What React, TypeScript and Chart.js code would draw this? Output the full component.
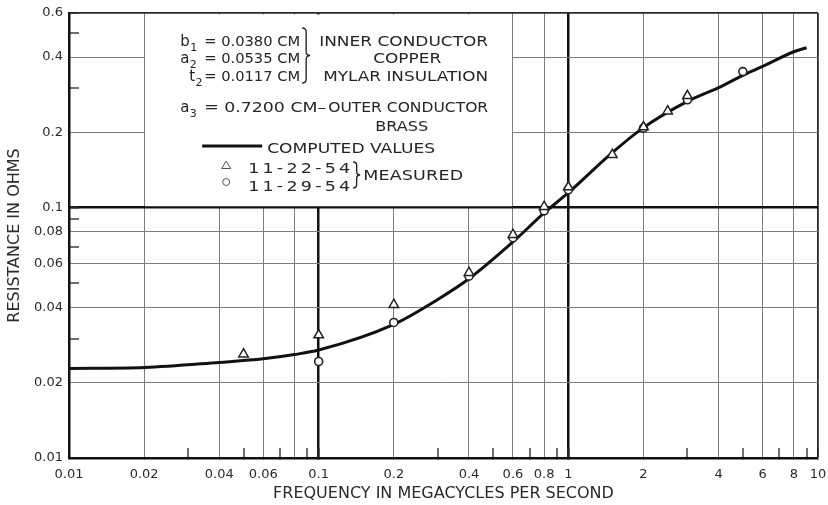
import React, { useEffect, useRef } from 'react';
import { Chart, registerables } from 'chart.js';

Chart.register(...registerables);

const FONT = '"DejaVu Sans", "Liberation Sans", sans-serif';

// ---- data ----
const computedFreq = [0.01, 0.02, 0.04, 0.06, 0.08, 0.1, 0.2, 0.3, 0.4, 0.6, 0.8, 1, 1.5, 2, 3, 4, 5, 6, 8, 9];
const computedRes = [0.0228, 0.023, 0.0241, 0.0249, 0.0259, 0.027, 0.0342, 0.043, 0.052, 0.073, 0.0953, 0.1148, 0.166, 0.209, 0.266, 0.302, 0.338, 0.367, 0.42, 0.436];

const measured1Freq = [0.05, 0.1, 0.2, 0.4, 0.6, 0.8, 1, 1.5, 2, 2.5, 3];
const measured1Res = [0.026, 0.031, 0.041, 0.055, 0.078, 0.101, 0.121, 0.163, 0.21, 0.243, 0.28];

const measured2Freq = [0.1, 0.2, 0.4, 0.6, 0.8, 1, 2, 3, 5];
const measured2Res = [0.0243, 0.0348, 0.0533, 0.0759, 0.0972, 0.118, 0.208, 0.27, 0.35];

// ---- axis ticks ----
const xTickValues = [0.01, 0.02, 0.03, 0.04, 0.05, 0.06, 0.07, 0.08, 0.09, 0.1, 0.2, 0.3, 0.4, 0.5, 0.6, 0.7, 0.8, 0.9, 1, 2, 3, 4, 5, 6, 7, 8, 9, 10];
const xLabelValues = [0.01, 0.02, 0.04, 0.06, 0.1, 0.2, 0.4, 0.6, 0.8, 1, 2, 4, 6, 8, 10];
const xGridValues = [0.02, 0.04, 0.06, 0.08, 0.2, 0.4, 0.6, 0.8, 2, 4, 6, 8];
const xHeavyValues = [0.1, 1];
const xEdgeValue = 10;
const xAxisValue = 0.01;

const yTickValues = [0.01, 0.02, 0.03, 0.04, 0.05, 0.06, 0.07, 0.08, 0.09, 0.1, 0.2, 0.3, 0.4, 0.5, 0.6];
const yLabelValues = [0.01, 0.02, 0.04, 0.06, 0.08, 0.1, 0.2, 0.4, 0.6];
const yGridValues = [0.02, 0.04, 0.06, 0.08, 0.2, 0.4];
const yHeavyValues = [0.1];
const yEdgeValue = 0.6;
const yAxisValue = 0.01;

function gridStyle(grid: number[], heavy: number[], edge: number, axis: number) {
  const kind = (c: any) => {
    const v = c && c.tick ? c.tick.value : undefined;
    if (v === undefined || v === axis) return 'none';
    if (heavy.includes(v)) return 'heavy';
    if (v === edge) return 'edge';
    if (grid.includes(v)) return 'grid';
    return 'minor';
  };
  return {
    color: (c: any) => {
      const k = kind(c);
      if (k === 'heavy') return '#111111';
      if (k === 'edge') return '#2a2a2a';
      if (k === 'grid') return '#7c7c7c';
      return 'rgba(0,0,0,0)';
    },
    lineWidth: (c: any) => {
      const k = kind(c);
      if (k === 'heavy') return 2.5;
      if (k === 'edge') return 1.8;
      if (k === 'grid') return 1;
      return 0;
    },
    tickColor: (c: any) => {
      const k = kind(c);
      if (k === 'none') return 'rgba(0,0,0,0)';
      if (k === 'grid') return '#7c7c7c';
      return '#222222';
    },
    tickWidth: (c: any) => {
      const k = kind(c);
      if (k === 'heavy') return 2.5;
      if (k === 'grid') return 1;
      return 1.3;
    },
    tickLength: -10,
    drawTicks: true,
    drawOnChartArea: true,
  };
}

// draws text stretched (wide lettering) to a target width
function fitText(ctx: CanvasRenderingContext2D, text: string, x: number, y: number, width: number) {
  (ctx as any).letterSpacing = '0px';
  const natural = ctx.measureText(text).width;
  const n = Array.from(text).length;
  let sx = width / natural;
  if (sx > 1.25) sx = 1.25;
  if (sx < 0.85) sx = 0.85;
  const remaining = width - natural * sx;
  const ls = n > 1 ? remaining / (n - 1) / sx : 0;
  ctx.save();
  ctx.translate(x, y);
  ctx.scale(sx, 1);
  (ctx as any).letterSpacing = `${ls}px`;
  ctx.fillText(text, 0, 0);
  ctx.restore();
}

function brace(ctx: CanvasRenderingContext2D, x0: number, yTop: number, yBot: number, w: number) {
  const ym = (yTop + yBot) / 2;
  const h = w / 2;
  ctx.beginPath();
  ctx.moveTo(x0, yTop);
  ctx.quadraticCurveTo(x0 + h, yTop, x0 + h, yTop + h);
  ctx.lineTo(x0 + h, ym - h);
  ctx.quadraticCurveTo(x0 + h, ym, x0 + w, ym);
  ctx.quadraticCurveTo(x0 + h, ym, x0 + h, ym + h);
  ctx.lineTo(x0 + h, yBot - h);
  ctx.quadraticCurveTo(x0 + h, yBot, x0, yBot);
  ctx.stroke();
}

const whiteBackground = {
  id: 'whiteBackground',
  beforeDraw(chart: any) {
    const ctx = chart.ctx;
    ctx.save();
    ctx.fillStyle = '#ffffff';
    ctx.fillRect(0, 0, chart.width, chart.height);
    ctx.restore();
  },
};

const paperLegend = {
  id: 'paperLegend',
  beforeDatasetsDraw(chart: any) {
    const ctx: CanvasRenderingContext2D = chart.ctx;
    const xs = chart.scales.x;
    const ys = chart.scales.y;
    const left = xs.getPixelForValue(0.02);
    const right = xs.getPixelForValue(0.6);
    const top = ys.getPixelForValue(0.6);
    const bottom = ys.getPixelForValue(0.1);
    ctx.save();
    ctx.fillStyle = '#ffffff';
    ctx.fillRect(left + 1, top + 1.5, right - left - 2, bottom - top - 3);
    ctx.translate(left, top);
    ctx.fillStyle = '#262626';
    ctx.strokeStyle = '#262626';
    ctx.textAlign = 'left';
    ctx.textBaseline = 'alphabetic';

    const rows: [number, number, string, string, string, number][] = [
      [36, 33, 'b', '1', '= 0.0380 CM', 96],
      [36, 50, 'a', '2', '= 0.0535 CM', 96],
      [45, 68, 't', '2', '= 0.0117 CM', 96],
      [36, 99, 'a', '3', '= 0.7200 CM–', 122],
    ];
    rows.forEach(([sx, by, sym, sub, val, w]) => {
      ctx.font = `15px ${FONT}`;
      ctx.fillText(sym, sx, by);
      const sw = ctx.measureText(sym).width;
      ctx.font = `11px ${FONT}`;
      ctx.fillText(sub, sx + sw + 0.5, by + 5);
      ctx.font = `14px ${FONT}`;
      fitText(ctx, val, 60, by, w);
    });

    ctx.font = `14px ${FONT}`;
    const words: [string, number, number, number][] = [
      ['INNER CONDUCTOR', 175, 33, 169],
      ['COPPER', 229, 50, 68],
      ['MYLAR INSULATION', 179, 68, 165],
      ['OUTER CONDUCTOR', 184, 99, 160],
      ['BRASS', 231, 118, 53],
      ['COMPUTED VALUES', 123, 140, 168],
      ['11-22-54', 104, 160, 102],
      ['11-29-54', 104, 178, 102],
      ['MEASURED', 219, 167, 100],
    ];
    words.forEach(([t, x, y, w]) => fitText(ctx, t, x, y, w));

    ctx.lineWidth = 1.4;
    brace(ctx, 158, 15, 70, 8);
    brace(ctx, 209, 149, 175, 7);

    ctx.lineWidth = 3;
    ctx.strokeStyle = '#111111';
    ctx.beginPath();
    ctx.moveTo(58, 133);
    ctx.lineTo(118, 133);
    ctx.stroke();

    ctx.lineWidth = 1;
    ctx.strokeStyle = '#555555';
    ctx.beginPath();
    ctx.moveTo(82, 148);
    ctx.lineTo(86.5, 155.5);
    ctx.lineTo(77.5, 155.5);
    ctx.closePath();
    ctx.stroke();
    ctx.beginPath();
    ctx.arc(82, 169, 3.5, 0, Math.PI * 2);
    ctx.stroke();
    ctx.restore();
  },
};

export default function App() {
  const canvasRef = useRef<HTMLCanvasElement | null>(null);

  useEffect(() => {
    if (!canvasRef.current) return;
    const chart = new Chart(canvasRef.current, {
      type: 'line',
      data: {
        datasets: [
          {
            label: '11-22-54',
            data: measured1Freq.map((f, i) => ({ x: f, y: measured1Res[i] })),
            showLine: false,
            pointStyle: 'triangle',
            pointRadius: 5.5,
            pointBorderWidth: 1.5,
            borderColor: '#222222',
            backgroundColor: '#ffffff',
            order: 1,
          },
          {
            label: '11-29-54',
            data: measured2Freq.map((f, i) => ({ x: f, y: measured2Res[i] })),
            showLine: false,
            pointStyle: 'circle',
            pointRadius: 4,
            pointBorderWidth: 1.6,
            borderColor: '#222222',
            backgroundColor: '#ffffff',
            order: 2,
          },
          {
            label: 'COMPUTED VALUES',
            data: computedFreq.map((f, i) => ({ x: f, y: computedRes[i] })),
            borderColor: '#111111',
            borderWidth: 3,
            pointRadius: 0,
            cubicInterpolationMode: 'monotone',
            fill: false,
            order: 3,
          },
        ],
      } as any,
      options: {
        animation: false,
        responsive: true,
        maintainAspectRatio: false,
        devicePixelRatio: 1,
        layout: { padding: { top: 13, right: 10, left: 0, bottom: 0 } },
        plugins: {
          legend: { display: false },
          tooltip: { enabled: false },
        },
        scales: {
          x: {
            type: 'logarithmic',
            min: 0.01,
            max: 10,
            afterBuildTicks: (s: any) => {
              s.ticks = xTickValues.map((v) => ({ value: v }));
            },
            afterFit: (s: any) => {
              s.height = 47;
              s.paddingLeft = 0;
              s.paddingRight = 0;
            },
            ticks: {
              autoSkip: false,
              maxRotation: 0,
              minRotation: 0,
              padding: 19,
              color: '#2a2a2a',
              font: { family: FONT, size: 13 },
              callback: (v: any) => (xLabelValues.includes(Number(v)) ? String(Number(v)) : ''),
            },
            grid: gridStyle(xGridValues, xHeavyValues, xEdgeValue, xAxisValue) as any,
            border: { display: true, color: '#111111', width: 2.5 },
            title: {
              display: true,
              text: 'FREQUENCY IN MEGACYCLES PER SECOND',
              color: '#2a2a2a',
              font: { family: FONT, size: 16 },
              padding: { top: 0, bottom: 2 },
            },
          },
          y: {
            type: 'logarithmic',
            min: 0.01,
            max: 0.6,
            afterBuildTicks: (s: any) => {
              s.ticks = yTickValues.map((v) => ({ value: v }));
            },
            afterFit: (s: any) => {
              s.width = 69;
              s.paddingTop = 0;
              s.paddingBottom = 0;
            },
            ticks: {
              autoSkip: false,
              padding: 16,
              color: '#2a2a2a',
              font: { family: FONT, size: 13 },
              callback: (v: any) => (yLabelValues.includes(Number(v)) ? String(Number(v)) : ''),
            },
            grid: gridStyle(yGridValues, yHeavyValues, yEdgeValue, yAxisValue) as any,
            border: { display: true, color: '#111111', width: 2.5 },
            title: {
              display: true,
              text: 'RESISTANCE IN OHMS',
              color: '#2a2a2a',
              font: { family: FONT, size: 16 },
              padding: { top: 5, bottom: 0 },
            },
          },
        },
      } as any,
      plugins: [whiteBackground, paperLegend],
    });
    return () => chart.destroy();
  }, []);

  return (
    <div style={{ position: 'fixed', left: 0, top: 0, width: 828, height: 505, background: '#fff' }}>
      <canvas ref={canvasRef} />
    </div>
  );
}
